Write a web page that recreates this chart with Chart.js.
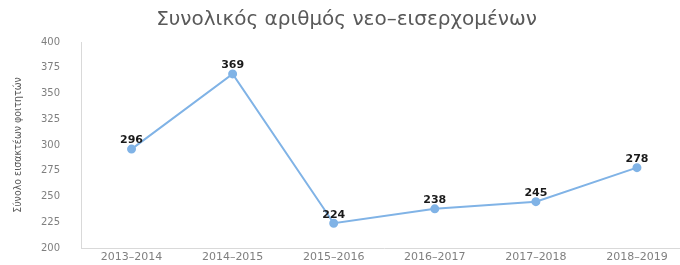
<!DOCTYPE html>
<html>
<head>
<meta charset="utf-8">
<script src="https://cdn.jsdelivr.net/npm/chart.js@4.4.1/dist/chart.umd.min.js"></script>
<style>
  html, body { margin: 0; padding: 0; background: #fff; overflow: hidden; }
  #wrap { position: relative; width: 693px; height: 275px; }
</style>
</head>
<body>
<div id="wrap"><canvas id="chart"></canvas></div>
<script>
const years = ['2013–2014', '2014–2015', '2015–2016', '2016–2017', '2017–2018', '2018–2019'];
const students = [296, 369, 224, 238, 245, 278];

// draws the value above each point
const valueLabels = {
  id: 'valueLabels',
  afterDatasetsDraw(chart) {
    const ctx = chart.ctx;
    const meta = chart.getDatasetMeta(0);
    ctx.save();
    ctx.font = 'bold 11px "DejaVu Sans", sans-serif';
    ctx.fillStyle = '#1a1a1a';
    ctx.textAlign = 'center';
    ctx.textBaseline = 'bottom';
    meta.data.forEach((pt, i) => {
      ctx.fillText(students[i], pt.x, pt.y - 3);
    });
    ctx.restore();
  }
};

new Chart(document.getElementById('chart'), {
  type: 'line',
  data: {
    labels: years,
    datasets: [{
      data: students,
      borderColor: '#80b3e6',
      backgroundColor: '#80b3e6',
      borderWidth: 2,
      pointRadius: 3.5,
      pointHoverRadius: 3.5,
      tension: 0,
    }]
  },
  options: {
    responsive: true,
    maintainAspectRatio: false,
    animation: false,
    layout: { padding: { left: 0, right: 0, top: 8, bottom: 0 } },
    scales: {
      x: {
        offset: true,
        grid: { display: false, drawTicks: false },
        border: { color: '#d9d9d9' },
        ticks: { color: '#7f7f7f', font: { size: 11, family: '"DejaVu Sans", sans-serif' }, padding: 3, maxRotation: 0, autoSkip: false },
        afterFit: (scale) => { scale.height = 18; },
      },
      y: {
        min: 200,
        max: 400,
        grid: { display: false, drawTicks: false },
        border: { color: '#d9d9d9' },
        ticks: { stepSize: 25, color: '#7f7f7f', font: { size: 10, family: '"DejaVu Sans", sans-serif' }, padding: 21 },
        afterFit: (scale) => { scale.width = 81; },
        title: {
          display: true,
          text: 'Σύνολο εισακτέων φοιτητών',
          color: '#595959',
          font: { size: 10.5, family: '"DejaVu Sans Condensed", sans-serif' },
          padding: { top: 12, bottom: 0 },
        },
      },
    },
    plugins: {
      legend: { display: false },
      tooltip: { enabled: false },
      title: {
        display: true,
        text: 'Συνολικός αριθμός νεο–εισερχομένων',
        color: '#595959',
        font: { size: 20, weight: 'normal', family: '"DejaVu Sans", sans-serif' },
        padding: { top: 0, bottom: 10 },
      },
    },
  },
  plugins: [valueLabels],
});
</script>
</body>
</html>
